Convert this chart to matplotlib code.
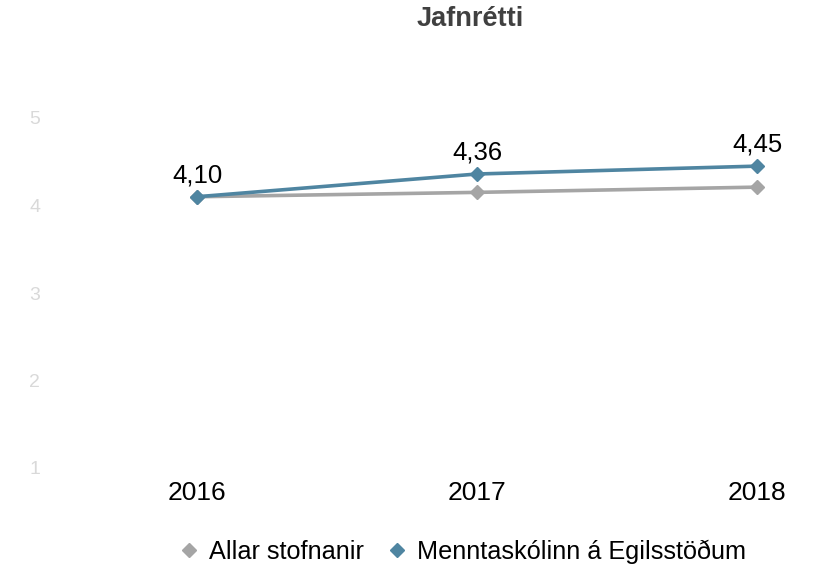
import matplotlib
matplotlib.use("Agg")
import matplotlib.pyplot as plt

plt.rcParams['font.family'] = ['Liberation Sans', 'DejaVu Sans']

years = ["2016", "2017", "2018"]
allar = [4.10, 4.15, 4.21]
menntaskolinn = [4.10, 4.36, 4.45]
labels = ["4,10", "4,36", "4,45"]

fig = plt.figure(figsize=(8.13, 5.71), dpi=100)
ax = fig.add_axes([57 / 813, 103 / 571, 742 / 813, 350 / 571])

x = range(len(years))
ax.plot(x, allar, '-D', color="#a5a5a5", linewidth=2.6, markersize=7.5,
        label="Allar stofnanir")
ax.plot(x, menntaskolinn, '-D', color="#4f85a1", linewidth=2.6, markersize=7.5,
        label="Menntaskólinn á Egilsstöðum")

for i, t in enumerate(labels):
    ax.annotate(t, (i, menntaskolinn[i]), xytext=(0, 7), textcoords="offset points",
                ha="center", va="bottom", fontsize=18.5, color="black")

ax.set_xlim(-0.5, 2.15)
ax.set_ylim(1, 5)
ax.set_xticks(list(x))
ax.set_xticklabels(years, fontsize=19)
ax.set_yticks([1, 2, 3, 4, 5])
ax.tick_params(axis="x", length=0, pad=9)
ax.tick_params(axis="y", length=0, pad=12, labelsize=14, labelcolor="#d9d9d9")
for s in ax.spines.values():
    s.set_visible(False)

fig.text(470 / 813, 1 - 19 / 571, "Jafnrétti", ha="center", va="center",
         fontsize=19.5, fontweight="bold", color="#404040")

leg = fig.legend(handles=ax.get_lines(), loc="center", ncol=2,
                 bbox_to_anchor=(464 / 813, 1 - 552 / 571), frameon=False,
                 fontsize=18.2, handlelength=0.6, handletextpad=0.5,
                 columnspacing=1.0)
for h in leg.legend_handles:
    h.set_linestyle("none")
    h.set_markersize(7)

fig.savefig("out.png", dpi=100)
